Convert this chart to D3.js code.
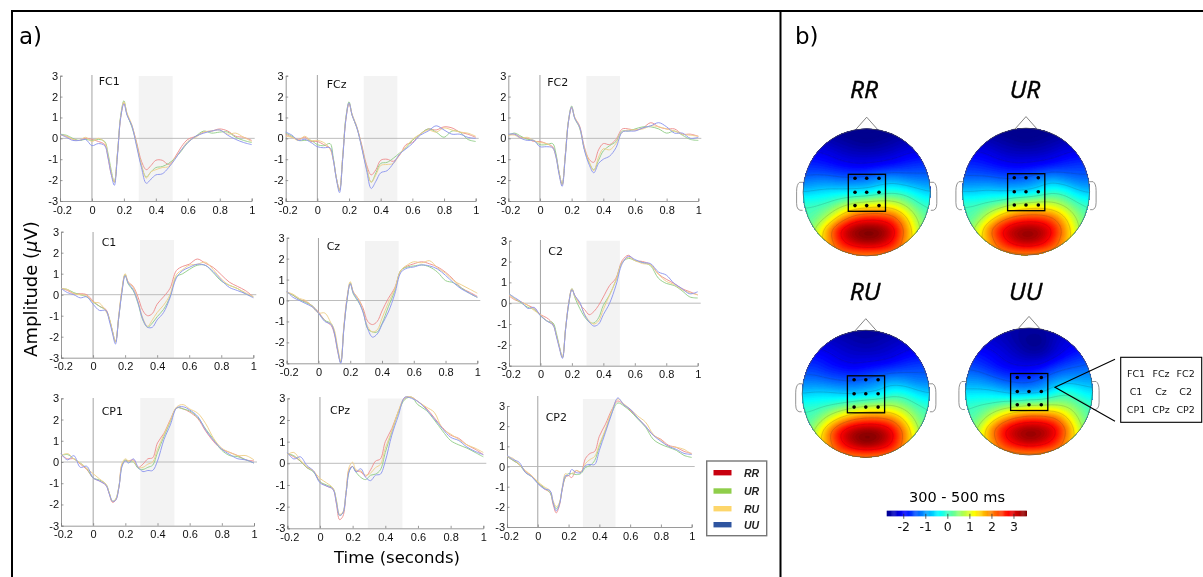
<!DOCTYPE html>
<html>
<head>
<meta charset="utf-8">
<script src="https://cdn.jsdelivr.net/npm/d3@7"></script>
<style>
html,body{margin:0;padding:0;background:#fff;overflow:hidden}
svg{display:block;filter:blur(0.35px)}
</style>
</head>
<body>
<svg id="c" width="1203" height="577"></svg>
<script>
// ---------- ERP data ----------
const times=[-.2,-.16,-.12,-.08,-.04,0,.04,.08,.1,.12,.14,.16,.18,.2,.22,.25,.28,.31,.34,.37,.4,.44,.48,.52,.56,.6,.65,.7,.75,.8,.85,.9,.95,1];
const conditions=["RR","UR","RU","UU"];
const electrodes=["FC1","FCz","FC2","C1","Cz","C2","CP1","CPz","CP2"];
const xTicks=[-.2,0,.2,.4,.6,.8,1];
const yTicks=[-3,-2,-1,0,1,2,3];

const FC1_RR=[.2,.1,-.05,-.1,0,-.05,-.15,-.3,-.9,-1.7,-2.1,-.7,1.0,1.7,1.15,.6,-.2,-1.1,-1.5,-1.3,-1.05,-1.05,-1.25,-.9,-.4,-.05,.1,.3,.35,.45,.35,.1,.05,-.1];
const FC1_UR=[.2,.15,0,-.1,-.05,-.1,-.05,-.15,-.7,-1.5,-2.1,-.7,1.1,1.8,1.15,.55,-.3,-1.3,-1.85,-1.6,-1.4,-1.35,-1.2,-.95,-.6,-.2,.1,.35,.25,.3,.3,.05,-.1,-.2];
const FC1_RU=[.15,.1,-.05,-.1,.05,-.15,0,-.2,-.8,-1.6,-2.1,-.7,1.05,1.75,1.2,.65,-.3,-1.3,-1.9,-1.6,-1.5,-1.4,-1.35,-.95,-.55,-.15,.05,.3,.35,.4,.2,.25,.05,-.15];
const FC1_UU=[.2,.05,-.1,-.1,-.05,-.35,-.25,-.35,-.9,-1.7,-2.25,-.8,1.0,1.65,1.1,.6,-.4,-1.4,-2.15,-1.95,-1.75,-1.7,-1.4,-1.0,-.55,-.2,.1,.25,.35,.4,.15,-.05,-.2,-.3];

const FCz_RR=[.2,.05,-.05,.05,-.15,-.15,-.3,-.5,-1.0,-1.9,-2.45,-.9,.9,1.65,1.1,.5,-.3,-1.25,-1.75,-1.5,-1.05,-1.0,-1.1,-.8,-.3,-.2,.2,.45,.4,.55,.5,.3,.2,.05];
const FCz_UR=[.25,.1,-.1,-.1,-.1,-.3,-.35,-.25,-.9,-1.9,-2.5,-.9,1.0,1.75,1.1,.5,-.4,-1.4,-2.1,-1.65,-1.2,-1.15,-.95,-.7,-.45,-.1,.2,.45,.3,.05,.35,.3,-.05,-.15];
const FCz_RU=[.1,.05,-.1,.1,-.1,-.1,-.2,-.5,-1.0,-1.9,-2.5,-.9,.95,1.7,1.15,.55,-.4,-1.4,-2.1,-1.75,-1.3,-1.25,-1.2,-.75,-.4,-.05,.2,.4,.3,.5,.4,.3,.25,.1];
const FCz_UU=[.3,.15,-.1,-.05,-.2,-.4,-.45,-.45,-1.0,-1.95,-2.6,-1.0,.9,1.7,1.1,.5,-.45,-1.5,-2.4,-2.05,-1.65,-1.55,-1.2,-.75,-.5,-.25,.15,.35,.6,.4,.2,.2,.05,0];

const FC2_RR=[.15,.2,.05,0,-.15,-.15,-.25,-.4,-.8,-1.6,-2.2,-.8,.8,1.45,1.0,.6,-.4,-1.0,-1.15,-.55,-.25,-.3,-.05,.45,.45,.4,.5,.75,.55,.45,.45,.2,.2,.1];
const FC2_UR=[.15,.25,.1,-.05,-.1,-.3,-.3,-.25,-.7,-1.6,-2.2,-.8,.85,1.55,.95,.5,-.5,-1.15,-1.5,-1.05,-.6,-.35,-.15,.35,.35,.45,.55,.55,.45,.25,.35,.15,-.05,-.1];
const FC2_RU=[.15,.15,0,.05,-.1,-.2,-.25,-.45,-.85,-1.65,-2.25,-.8,.85,1.5,1.0,.55,-.5,-1.1,-1.55,-.9,-.5,-.55,-.25,.3,.4,.4,.45,.6,.55,.45,.35,.2,.15,.1];
const FC2_UU=[.2,.2,0,-.1,-.1,-.4,-.4,-.45,-.85,-1.7,-2.3,-.9,.8,1.5,.95,.55,-.55,-1.25,-1.65,-1.2,-1.0,-.85,-.45,.3,.35,.35,.5,.6,.75,.55,.25,.25,0,.05];

const C1_RR=[.3,.2,.05,.05,0,-.3,-.55,-.7,-1.1,-1.7,-2.25,-1.1,.2,.95,.6,.4,-.1,-.75,-1.0,-.9,-.45,-.1,.3,1.15,1.35,1.45,1.7,1.5,1.3,.95,.6,.4,.2,-.1];
const C1_UR=[.3,.25,.1,0,-.1,-.35,-.55,-.75,-1.1,-1.7,-2.25,-1.1,.15,.95,.5,.2,-.4,-1.2,-1.55,-1.35,-1.05,-.7,-.1,.85,1.0,1.2,1.4,1.4,1.05,.65,.45,.3,.05,-.1];
const C1_RU=[.3,.25,.05,0,-.05,-.35,-.4,-.8,-1.1,-1.7,-2.25,-1.0,.25,1.0,.6,.35,-.3,-1.1,-1.5,-1.2,-.85,-.5,0,.95,1.2,1.4,1.45,1.55,1.2,.75,.45,.3,.1,-.1];
const C1_UU=[.3,.1,0,-.15,-.1,-.45,-.75,-.75,-1.2,-1.8,-2.35,-1.1,.1,.9,.55,.25,-.35,-1.15,-1.55,-1.55,-1.2,-.85,-.15,.8,1.15,1.3,1.45,1.4,1.1,.7,.35,.2,.05,-.15];

const Cz_RR=[.4,.25,.05,-.05,-.25,-.55,-.95,-1.2,-1.6,-2.4,-2.95,-1.3,.1,.8,.4,.1,-.35,-1.0,-1.15,-1.0,-.5,.1,.6,1.45,1.65,1.75,1.85,1.75,1.6,1.35,1.0,.6,.4,.2];
const Cz_UR=[.4,.25,.05,-.1,-.25,-.6,-.95,-1.1,-1.5,-2.3,-2.95,-1.3,0,.85,.3,-.05,-.5,-1.35,-1.5,-1.5,-1.1,-.3,.45,1.45,1.6,1.65,1.7,1.6,1.35,.95,.85,.6,.35,.15];
const Cz_RU=[.4,.3,.1,0,-.3,-.6,-.6,-1.1,-1.4,-2.2,-2.9,-1.2,.15,.9,.4,.1,-.5,-1.25,-1.5,-1.4,-.85,-.1,.55,1.45,1.7,1.85,1.8,1.9,1.55,1.3,.95,.75,.55,.35];
const Cz_UU=[.45,.15,0,-.15,-.3,-.6,-1.0,-1.15,-1.55,-2.35,-3.0,-1.35,.05,.8,.35,0,-.55,-1.35,-1.75,-1.6,-1.15,-.55,.3,1.35,1.55,1.6,1.7,1.65,1.5,1.2,.85,.55,.35,.15];

const C2_RR=[.35,.15,.05,-.1,-.25,-.55,-.7,-1.0,-1.5,-2.1,-2.6,-1.2,0,.65,.35,-.05,-.3,-.55,-.4,-.1,.3,.85,1.2,2.05,2.3,2.05,2.0,1.85,1.4,1.15,.95,.7,.55,.4];
const C2_UR=[.45,.2,0,-.2,-.3,-.6,-.85,-.95,-1.4,-2.05,-2.6,-1.2,-.05,.7,.25,-.25,-.65,-.9,-.95,-.7,-.1,.4,1.1,1.95,2.15,2.05,1.95,1.8,1.2,.95,.85,.6,.3,.25];
const C2_RU=[.4,.2,.05,-.1,-.35,-.55,-.85,-1.05,-1.5,-2.1,-2.6,-1.2,.05,.7,.3,0,-.5,-.85,-1.0,-.85,-.3,.4,1.1,1.95,2.2,2.05,1.9,1.85,1.4,1.05,.9,.65,.5,.4];
const C2_UU=[.45,.25,.05,-.25,-.2,-.6,-.85,-1.05,-1.55,-2.15,-2.65,-1.25,0,.65,.35,.05,-.55,-.9,-1.1,-1.0,-.55,0,.85,1.9,2.25,2.1,1.95,1.9,1.5,1.35,.95,.7,.45,.55];

const CP1_RR=[.35,.15,.15,-.1,-.35,-.75,-.9,-1.1,-1.5,-1.9,-1.8,-1.2,-.1,.05,.05,.1,-.25,-.1,.15,.2,.9,1.35,2.0,2.55,2.5,2.35,2.05,1.45,.95,.6,.45,.3,.1,.05];
const CP1_UR=[.3,.35,.15,-.05,-.3,-.75,-.85,-1.05,-1.45,-1.85,-1.75,-1.15,-.15,.1,0,0,-.3,-.35,-.25,-.15,.45,1.2,1.9,2.55,2.5,2.4,2.1,1.55,1.05,.55,.3,.25,.1,-.05];
const CP1_RU=[.3,.4,.15,-.05,-.3,-.55,-.8,-1.05,-1.45,-1.85,-1.75,-1.15,-.05,.15,.05,.05,-.25,-.25,-.1,0,.6,1.3,1.95,2.6,2.7,2.5,2.3,1.8,1.1,.65,.45,.3,.3,.1];
const CP1_UU=[.4,.1,.3,-.25,-.2,-.75,-.9,-1.1,-1.5,-1.85,-1.8,-1.2,-.2,.05,-.05,.15,-.25,-.45,-.4,-.4,.05,1.05,1.75,2.55,2.6,2.45,2.15,1.5,1.0,.6,.35,.15,.1,-.05];

const CPz_RR=[.45,.3,.1,-.2,-.35,-.85,-1.05,-1.2,-1.85,-2.6,-2.45,-1.4,-.25,-.15,-.35,-.4,-.6,-.3,.1,.2,1.0,1.6,2.4,3.0,3.05,2.85,2.55,2.1,1.65,1.3,1.15,.85,.65,.4];
const CPz_UR=[.45,.35,.1,-.2,-.4,-.85,-1.0,-1.15,-1.7,-2.4,-2.3,-1.35,-.35,-.15,-.4,-.65,-.75,-.55,-.5,-.3,.5,1.45,2.35,2.95,3.05,2.7,2.45,2.0,1.5,1.05,.85,.7,.5,.3];
const CPz_RU=[.4,.5,.15,-.15,-.35,-.7,-.9,-1.15,-1.7,-2.35,-2.25,-1.25,-.15,.05,-.3,-.35,-.55,-.45,-.2,-.05,.7,1.5,2.4,3.05,3.05,2.85,2.6,2.35,1.6,1.35,1.1,.85,.7,.5];
const CPz_UU=[.5,.2,.3,-.1,-.35,-.9,-1.05,-1.2,-1.8,-2.4,-2.3,-1.35,-.35,-.15,-.4,-.25,-.65,-.8,-.55,-.5,.1,1.3,2.2,3.05,3.0,2.85,2.5,2.05,1.6,1.2,1.05,.75,.55,.4];

const CP2_RR=[.5,.3,.1,-.25,-.45,-.8,-1.1,-1.3,-1.9,-2.3,-1.95,-1.1,-.55,-.45,-.55,-.2,-.3,.4,.65,.75,1.5,2.1,2.8,3.25,3.05,2.8,2.4,2.0,1.55,1.35,1.05,.95,.75,.65];
const CP2_UR=[.5,.3,.1,-.3,-.5,-.8,-1.05,-1.3,-1.8,-2.1,-1.85,-1.05,-.5,-.35,-.35,-.4,-.35,-.05,.05,.3,1.0,1.8,2.65,3.15,3.0,2.75,2.35,1.95,1.35,1.1,.95,.8,.55,.45];
const CP2_RU=[.5,.4,.1,-.2,-.45,-.75,-1.0,-1.2,-1.7,-2.0,-1.8,-1.0,-.35,-.45,-.35,-.2,-.25,.15,.35,.5,1.1,1.85,2.75,3.35,3.1,2.85,2.5,2.2,1.6,1.3,1.0,.95,.85,.6];
const CP2_UU=[.55,.35,.2,-.3,-.5,-.85,-1.1,-1.2,-1.8,-2.2,-1.9,-1.05,-.45,-.45,-.15,-.3,-.3,.05,.1,.1,.8,1.7,2.6,3.4,3.05,2.85,2.4,2.0,1.55,1.25,1.0,.85,.65,.6];

const erp={FC1:[FC1_RR,FC1_UR,FC1_RU,FC1_UU],FCz:[FCz_RR,FCz_UR,FCz_RU,FCz_UU],FC2:[FC2_RR,FC2_UR,FC2_RU,FC2_UU],
C1:[C1_RR,C1_UR,C1_RU,C1_UU],Cz:[Cz_RR,Cz_UR,Cz_RU,Cz_UU],C2:[C2_RR,C2_UR,C2_RU,C2_UU],
CP1:[CP1_RR,CP1_UR,CP1_RU,CP1_UU],CPz:[CPz_RR,CPz_UR,CPz_RU,CPz_UU],CP2:[CP2_RR,CP2_UR,CP2_RU,CP2_UU]};
const analysisWindow=[.293,.505];

// ---------- topography samples (µV, 11x11, top to bottom) ----------
const topoRR=[
[-2.6,-2.6,-2.7,-2.8,-2.9,-2.9,-2.9,-2.8,-2.7,-2.6,-2.6],
[-2.4,-2.4,-2.5,-2.6,-2.7,-2.8,-2.7,-2.6,-2.5,-2.4,-2.4],
[-2.0,-2.0,-2.1,-2.3,-2.4,-2.4,-2.4,-2.3,-2.1,-2.0,-2.0],
[-1.7,-1.7,-1.8,-1.9,-2.0,-2.0,-1.9,-1.8,-1.7,-1.6,-1.6],
[-1.3,-1.2,-1.2,-1.3,-1.3,-1.2,-1.0,-.9,-1.1,-1.2,-1.2],
[-.7,-.6,-.5,-.5,-.5,-.5,-.3,-.1,-.2,-.5,-.7],
[0,0,.1,.5,.9,1.1,1.2,1.1,.7,.1,-.1],
[.1,.2,.8,1.7,2.4,2.6,2.6,2.4,1.6,.6,.1],
[-.1,.8,2.0,3.1,3.6,3.8,3.7,3.2,2.1,.9,-.1],
[.8,1.0,1.7,2.7,3.2,3.4,3.3,2.8,1.8,1.0,.8],
[1.8,1.8,1.8,1.8,1.8,1.8,1.8,1.8,1.8,1.8,1.8]];
const topoUR=[
[-2.6,-2.6,-2.7,-2.8,-2.9,-2.9,-2.9,-2.8,-2.7,-2.6,-2.6],
[-2.4,-2.4,-2.5,-2.6,-2.7,-2.8,-2.7,-2.6,-2.5,-2.4,-2.4],
[-2.0,-2.0,-2.1,-2.3,-2.4,-2.4,-2.4,-2.3,-2.1,-2.0,-2.0],
[-1.7,-1.7,-1.8,-1.9,-2.0,-2.0,-1.9,-1.8,-1.7,-1.6,-1.6],
[-1.3,-1.3,-1.3,-1.4,-1.4,-1.3,-1.1,-.9,-1.1,-1.3,-1.3],
[-.7,-.7,-.6,-.7,-.7,-.7,-.5,-.1,-.2,-.6,-.8],
[0,0,.1,.3,.7,.9,1.0,.9,.6,.1,-.1],
[.1,.2,.9,1.7,2.2,2.4,2.4,2.2,1.5,.6,.1],
[-.1,.8,2.0,2.9,3.4,3.6,3.5,3.0,2.0,.9,-.1],
[.8,1.0,1.6,2.5,3.1,3.4,3.2,2.6,1.7,1.0,.8],
[1.7,1.7,1.7,1.7,1.7,1.7,1.7,1.7,1.7,1.7,1.7]];
const topoRU=[
[-2.4,-2.4,-2.5,-2.6,-2.7,-2.7,-2.7,-2.6,-2.5,-2.4,-2.4],
[-2.2,-2.2,-2.3,-2.4,-2.5,-2.6,-2.5,-2.4,-2.3,-2.2,-2.2],
[-1.9,-1.9,-2.0,-2.2,-2.3,-2.3,-2.3,-2.2,-2.0,-1.9,-1.9],
[-1.6,-1.6,-1.8,-1.9,-2.0,-1.9,-1.8,-1.7,-1.6,-1.5,-1.5],
[-1.2,-1.2,-1.3,-1.4,-1.4,-1.3,-1.1,-.9,-1.0,-1.2,-1.2],
[-.7,-.6,-.6,-.7,-.8,-.7,-.6,-.2,-.2,-.5,-.7],
[-.1,-.1,0,.2,.5,.7,.8,.8,.5,.1,-.1],
[.1,.2,.9,1.6,2.1,2.3,2.3,2.1,1.4,.5,.1],
[-.1,.8,2.0,3.0,3.5,3.7,3.6,3.1,2.1,.9,-.1],
[.8,1.0,1.8,2.7,3.3,3.6,3.4,2.9,1.9,1.0,.8],
[1.8,1.8,1.8,1.8,1.8,1.8,1.8,1.8,1.8,1.8,1.8]];
const topoUU=[
[-2.2,-2.2,-2.3,-2.5,-2.6,-2.6,-2.6,-2.5,-2.3,-2.2,-2.2],
[-2.1,-2.2,-2.3,-2.4,-2.6,-2.8,-2.8,-2.4,-2.2,-2.1,-2.0],
[-1.8,-1.9,-2.0,-2.2,-2.4,-2.6,-2.6,-2.3,-2.0,-1.8,-1.7],
[-1.5,-1.6,-1.8,-2.0,-2.1,-2.1,-2.0,-1.7,-1.5,-1.4,-1.3],
[-1.1,-1.1,-1.3,-1.5,-1.6,-1.6,-1.4,-1.1,-1.0,-1.0,-1.0],
[-.6,-.6,-.6,-.8,-1.0,-1.0,-.9,-.4,-.1,-.4,-.6],
[-.1,0,0,.2,.3,.5,.5,.6,.5,.2,-.1],
[.1,.2,.9,1.6,2.1,2.3,2.3,2.1,1.4,.5,.1],
[-.1,.8,2.0,2.9,3.4,3.6,3.5,3.1,2.1,.9,-.1],
[.8,1.0,1.7,2.6,3.1,3.4,3.2,2.7,1.8,1.0,.8],
[1.7,1.7,1.7,1.7,1.7,1.7,1.7,1.7,1.7,1.7,1.7]];
const topos={RR:topoRR,UR:topoUR,RU:topoRU,UU:topoUU};
const colorDomain=[-2.75,3.6];
const colorTicks=[-2,-1,0,1,2,3];
const calloutRows=[["FC1","FCz","FC2"],["C1","Cz","C2"],["CP1","CPz","CP2"]];

// ---------- layout ----------
const lineColors=["#ee8f8f","#93cf8a","#efd08a","#8d97ee"];
const legendColors=["#c8000f","#8fce4a","#fdd66b","#2f55a0"];
const panelLayout={
 FC1:{l:60,r:251.7,t:75.7,b:201,top:76,axisTop:75,lx:98.7,ly:85},
 FCz:{l:285.7,r:475.7,t:75.7,b:201,top:76,axisTop:75,lx:326.7,ly:87.7},
 FC2:{l:508.3,r:698.3,t:75.7,b:201,top:76,axisTop:75,lx:547.3,ly:85.7},
 C1:{l:61,r:253.3,t:231.7,b:357.7,top:240,axisTop:232,lx:101.7,ly:245.7},
 Cz:{l:286.7,r:477.3,t:237.7,b:363.3,top:241,axisTop:238,lx:326.7,ly:250},
 C2:{l:509,r:697.7,t:240.7,b:365.7,top:240.7,axisTop:240,lx:548.3,ly:255},
 CP1:{l:61,r:254,t:398.3,b:525.7,top:398,axisTop:398,lx:101.7,ly:415},
 CPz:{l:287.3,r:483.3,t:398.3,b:528.3,top:398.5,axisTop:397,lx:330,ly:414.3},
 CP2:{l:507,r:691.7,t:406,b:527,top:399,axisTop:396,lx:545.7,ly:420.7}
};
const headLayout={RR:{cx:866.7,cy:192.3,tx:864,ty:98},UR:{cx:1026,cy:191.7,tx:1025,ty:98},
 RU:{cx:865.8,cy:393.8,tx:865,ty:300},UU:{cx:1029,cy:391.5,tx:1025.7,ty:300}};
const headR=63.6;
const sensorX=[-11.7,0,12.3], sensorY=[-14,0,13.3];

const svg=d3.select("#c");
const sans="'Liberation Sans',Arial,sans-serif", dj="'DejaVu Sans',sans-serif", os="'Open Sans',sans-serif";

// frame
const frame=svg.append("g").attr("fill","#000");
frame.append("rect").attr("x",12).attr("y",10).attr("width",1191).attr("height",2);
frame.append("rect").attr("x",11).attr("y",10).attr("width",2).attr("height",567);
frame.append("rect").attr("x",779.5).attr("y",10).attr("width",2).attr("height",567);

svg.append("text").text("a)").attr("x",19).attr("y",44).attr("font-family",dj).attr("font-size",23);
svg.append("text").text("b)").attr("x",795).attr("y",44).attr("font-family",dj).attr("font-size",23);

// ERP panels
electrodes.forEach(name=>{
  const L=panelLayout[name];
  const x=d3.scaleLinear().domain([-.2,1]).range([L.l,L.r]);
  const y=d3.scaleLinear().domain([-3,3]).range([L.b,L.t]);
  const g=svg.append("g");
  g.append("rect").attr("x",x(analysisWindow[0])).attr("width",x(analysisWindow[1])-x(analysisWindow[0]))
    .attr("y",L.top).attr("height",L.b-L.top).attr("fill","#f3f3f3");
  g.append("line").attr("x1",x(0)).attr("x2",x(0)).attr("y1",L.axisTop).attr("y2",L.b).attr("stroke","#999").attr("stroke-width",.9);
  g.append("line").attr("x1",L.l).attr("x2",L.r+3).attr("y1",y(0)).attr("y2",y(0)).attr("stroke","#b5b5b5").attr("stroke-width",.9);
  const ax=g.append("g").attr("transform",`translate(0,${L.b})`)
    .call(d3.axisBottom(x).tickValues(xTicks).tickSize(-2.5).tickPadding(5).tickFormat(d=>String(d)));
  const ay=g.append("g").attr("transform",`translate(${L.l},0)`)
    .call(d3.axisLeft(y).tickValues(yTicks).tickSize(-2.5).tickPadding(2).tickFormat(d=>String(d)));
  [ax,ay].forEach(a=>{
    a.selectAll("path,line").attr("stroke","#808080").attr("stroke-width",.8);
    a.selectAll("text").attr("font-family",sans).attr("font-size",11).attr("fill","#111");
  });
  ax.selectAll("text").filter(d=>d===-.2).attr("dx",2);
  const line=d3.line().x((d,i)=>x(times[i])).y(d=>y(d)).curve(d3.curveCatmullRom);
  erp[name].forEach((s,k)=>{
    g.append("path").attr("d",line(s)).attr("fill","none").attr("stroke",lineColors[k]).attr("stroke-width",.95);
  });
  g.append("text").text(name).attr("x",L.lx).attr("y",L.ly).attr("font-family",dj).attr("font-size",11).attr("fill","#111");
});

// axis titles
const yl=svg.append("text").attr("transform","translate(37,289) rotate(-90)").attr("text-anchor","middle")
  .attr("font-family",dj).attr("font-size",18);
yl.append("tspan").text("Amplitude (");
yl.append("tspan").text("µ").attr("font-style","italic");
yl.append("tspan").text("V)");
svg.append("text").text("Time (seconds)").attr("x",397).attr("y",563).attr("text-anchor","middle")
  .attr("font-family",dj).attr("font-size",16.5);

// legend
const lg=svg.append("g");
lg.append("rect").attr("x",706.7).attr("y",461).attr("width",60).attr("height",74.7).attr("fill","#fff").attr("stroke","#777").attr("stroke-width",1.4);
const legendY=[472.7,491,508.7,524.7];
conditions.forEach((c,i)=>{
  lg.append("rect").attr("x",713.5).attr("y",legendY[i]-2.7).attr("width",18).attr("height",5.4).attr("fill",legendColors[i]);
  lg.append("text").text(c).attr("x",744).attr("y",legendY[i]+4).attr("font-family",sans).attr("font-style","italic").attr("font-weight","bold").attr("font-size",10.5).attr("fill","#222");
});

// jet colour scale
const t2c=d3.scaleLinear().domain([0,.125,.375,.625,.875,1]).range(["#00008f","#0000ff","#00ffff","#ffff00","#ff0000","#800000"]);
const color=v=>t2c(Math.max(0,Math.min(1,(v-colorDomain[0])/(colorDomain[1]-colorDomain[0]))));

// heads
const N=111, step=(N-1)/10;
function upsample(grid){
  const out=new Float64Array(N*N);
  for(let j=0;j<N;j++)for(let i=0;i<N;i++){
    const gx=i/step,gy=j/step,x0=Math.min(9,Math.floor(gx)),y0=Math.min(9,Math.floor(gy)),fx=gx-x0,fy=gy-y0;
    out[j*N+i]=(grid[y0][x0]*(1-fx)+grid[y0][x0+1]*fx)*(1-fy)+(grid[y0+1][x0]*(1-fx)+grid[y0+1][x0+1]*fx)*fy;
  }
  d3.blur2({data:out,width:N,height:N},3.5);
  return out;
}
const fillLevels=d3.range(colorDomain[0]-.5,colorDomain[1]+.05,.08);
const lineLevels=[-2.1,-1.4,-.7,0,.7,1.4,2.1,2.8];
const defs=svg.append("defs");
conditions.forEach(c=>{
  const H=headLayout[c], g=svg.append("g");
  const sx=d3.scaleLinear().domain([0,N-1]).range([H.cx-headR,H.cx+headR]);
  const sy=d3.scaleLinear().domain([0,N-1]).range([H.cy-headR,H.cy+headR]);
  const geo=d3.geoPath(d3.geoTransform({point(a,b){this.stream.point(sx(a-.5),sy(b-.5));}}));
  const field=upsample(topos[c]);
  defs.append("clipPath").attr("id","clip"+c).append("circle").attr("cx",H.cx).attr("cy",H.cy).attr("r",headR);
  const nose=d3.path(); nose.moveTo(H.cx-12,H.cy-headR+2); nose.lineTo(H.cx,H.cy-headR-11.5); nose.lineTo(H.cx+12,H.cy-headR+2);
  g.append("path").attr("d",nose.toString()).attr("fill","#fff").attr("stroke","#666").attr("stroke-width",.8);
  [-1,1].forEach(sd=>{
    const w=7,hh=29,xEdge=H.cx+sd*(headR-.5),top=H.cy-10;
    g.append("path").attr("d",`M${xEdge},${top} L${xEdge+sd*4},${top} Q${xEdge+sd*w},${top+2} ${xEdge+sd*w},${top+9} L${xEdge+sd*w},${top+hh-8} Q${xEdge+sd*w},${top+hh} ${xEdge+sd*1},${top+hh-1}`)
      .attr("fill","#fff").attr("stroke","#777").attr("stroke-width",.8);
  });
  const map=g.append("g").attr("clip-path",`url(#clip${c})`);
  const contours=d3.contours().size([N,N]);
  fillLevels.forEach(lv=>{
    map.append("path").attr("d",geo(contours.contour(field,lv))).attr("fill",color(lv+.04)).attr("stroke",color(lv+.04)).attr("stroke-width",.3);
  });
  lineLevels.forEach(lv=>{
    map.append("path").attr("d",geo(contours.contour(field,lv))).attr("fill","none").attr("stroke","rgba(40,40,40,.3)").attr("stroke-width",.5);
  });
  g.append("circle").attr("cx",H.cx).attr("cy",H.cy).attr("r",headR).attr("fill","none").attr("stroke","#555").attr("stroke-width",.7);
  g.append("rect").attr("x",H.cx-18.4).attr("y",H.cy-18).attr("width",37.2).attr("height",37).attr("fill","none").attr("stroke","#000").attr("stroke-width",1.3);
  sensorY.forEach(dy=>sensorX.forEach(dx=>{
    g.append("circle").attr("cx",H.cx+dx).attr("cy",H.cy+dy).attr("r",1.8).attr("fill","#000");
  }));
  g.append("text").text(c).attr("x",H.tx).attr("y",H.ty).attr("text-anchor","middle").attr("font-family",os).attr("font-style","italic").attr("font-size",24.5).attr("fill","#000").attr("stroke","#000").attr("stroke-width",.45);
});

// callout
const co=svg.append("g");
co.append("path").attr("d","M1115,359.3 L1055,387.3 L1115,421.3").attr("fill","none").attr("stroke","#000").attr("stroke-width",1.1);
co.append("rect").attr("x",1120.7).attr("y",357.3).attr("width",81).attr("height",65).attr("fill","#fff").attr("stroke","#000").attr("stroke-width",1.1);
const coX=[1136,1161,1185.7], coY=[376.5,395,413];
calloutRows.forEach((row,j)=>row.forEach((t,i)=>{
  co.append("text").text(t).attr("x",coX[i]).attr("y",coY[j]).attr("text-anchor","middle").attr("font-family",dj).attr("font-size",9.5).attr("fill","#111");
}));

// colour bar
const cbar=svg.append("g");
cbar.append("text").text("300 - 500 ms").attr("x",957).attr("y",501.5).attr("text-anchor","middle").attr("font-family",dj).attr("font-size",14.5);
const cx=d3.scaleLinear().domain(colorDomain).range([886.7,1026.7]);
const barSteps=d3.range(colorDomain[0],colorDomain[1],.05);
cbar.selectAll("rect").data(barSteps).join("rect").attr("x",d=>cx(d)).attr("width",d=>cx(d+.05)-cx(d)+.3)
  .attr("y",510.7).attr("height",5.6).attr("fill",d=>color(d+.025));
const ca=cbar.append("g").attr("transform","translate(0,516.3)")
  .call(d3.axisBottom(cx).tickValues(colorTicks).tickSize(2.5).tickPadding(3.5).tickFormat(d=>String(d)));
ca.select("path").remove();
ca.selectAll("line").attr("stroke","#222").attr("stroke-width",.7).attr("y1",-2.5);
ca.selectAll("text").attr("font-family",dj).attr("font-size",12.5).attr("fill","#111");
</script>
</body>
</html>
